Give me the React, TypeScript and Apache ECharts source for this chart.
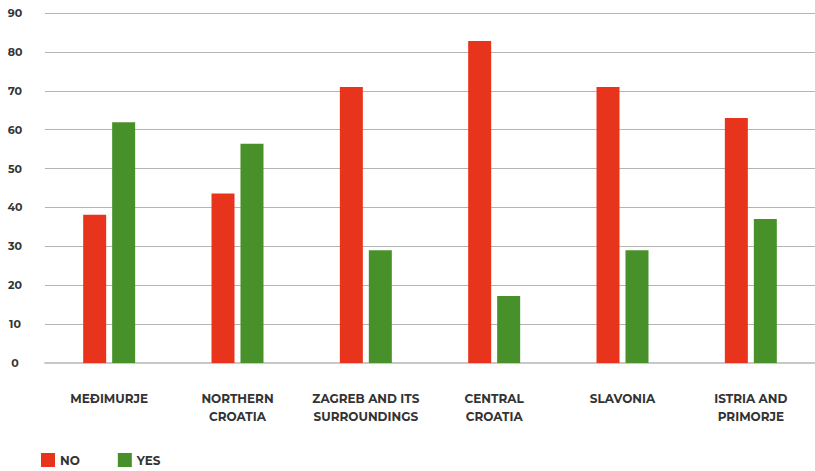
import React, { useEffect, useRef } from "react";
import * as echarts from "echarts";

const categories = [
  "MEĐIMURJE",
  "NORTHERN\nCROATIA",
  "ZAGREB AND ITS\nSURROUNDINGS",
  "CENTRAL\nCROATIA",
  "SLAVONIA",
  "ISTRIA AND\nPRIMORJE",
];
const noValues = [38.1, 43.6, 71, 82.8, 71, 63];
const yesValues = [61.9, 56.4, 29, 17.2, 29, 37];

const FONT = "Montserrat, Inter, 'DejaVu Sans', sans-serif";

export default function App() {
  const ref = useRef<HTMLDivElement>(null);
  useEffect(() => {
    if (!ref.current) return;
    const chart = echarts.init(ref.current, undefined, { renderer: "svg" });
    chart.setOption({
      animation: false,
      grid: { left: 45, right: -2, top: 13, bottom: 108 },
      legend: {
        left: 41,
        bottom: 4,
        padding: 0,
        itemWidth: 14,
        itemHeight: 14,
        itemGap: 38,
        itemTextGap: 10,
        icon: "rect",
        textStyle: { fontFamily: FONT, fontWeight: "bold", fontSize: 12, color: "#333" },
        data: ["NO", "YES"],
      },
      xAxis: {
        type: "category",
        data: categories,
        axisLine: { show: true, lineStyle: { color: "#c8c8c8", width: 2 } },
        axisTick: { show: false },
        axisLabel: {
          interval: 0,
          margin: 26,
          fontFamily: FONT,
          fontWeight: "bold",
          fontSize: 12,
          lineHeight: 18,
          color: "#333",
        },
      },
      yAxis: {
        type: "value",
        min: 0,
        max: 90,
        interval: 10,
        axisLine: { show: false },
        axisTick: { show: false },
        splitLine: { lineStyle: { color: "#b4b4b4", width: 1 } },
        axisLabel: {
          align: "center",
          margin: 30,
          fontFamily: FONT,
          fontWeight: "bold",
          fontSize: 11,
          color: "#333",
        },
      },
      series: [
        {
          name: "NO",
          type: "bar",
          data: noValues,
          barWidth: 23,
          barGap: "26%",
          itemStyle: { color: "#e8341c" },
        },
        {
          name: "YES",
          type: "bar",
          data: yesValues,
          barWidth: 23,
          itemStyle: { color: "#48902a" },
        },
      ],
    });
    return () => chart.dispose();
  }, []);
  return <div ref={ref} style={{ width: 815, height: 471, position: "absolute", left: 0, top: 0 }} />;
}
